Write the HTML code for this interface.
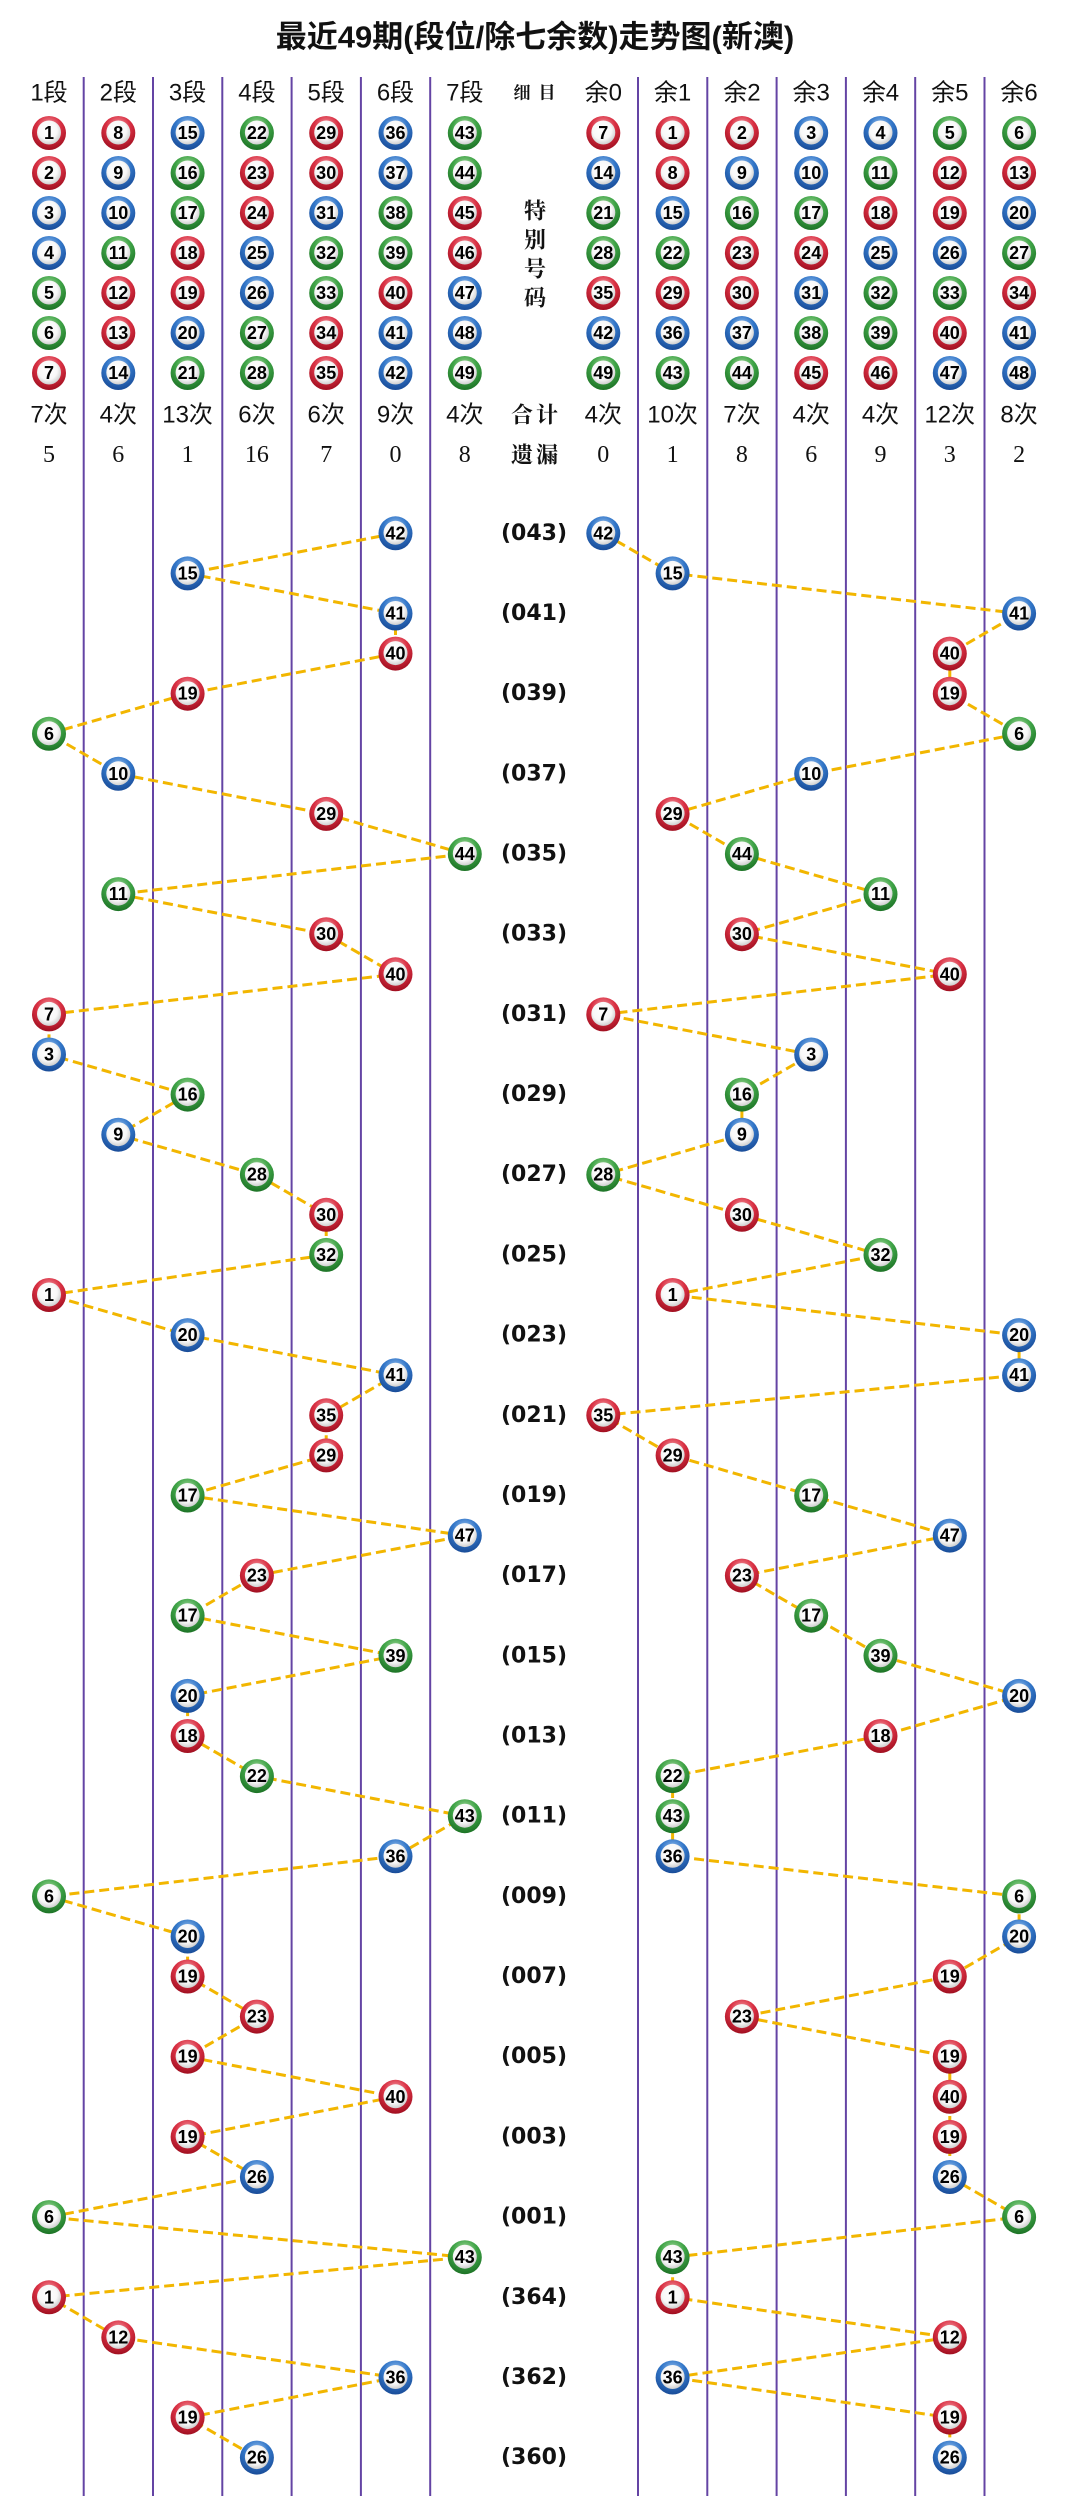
<!DOCTYPE html>
<html><head><meta charset="utf-8"><style>
html,body{margin:0;padding:0;background:#fff;}
svg{display:block;}
.t{font:bold 31px "Liberation Sans","Noto Sans CJK SC",sans-serif;text-anchor:middle;dominant-baseline:central;fill:#111;}
.h{font:24px "Liberation Sans","Noto Sans CJK SC",sans-serif;text-anchor:middle;dominant-baseline:central;fill:#111;}
.o{font:24px "Liberation Serif","Noto Serif CJK SC",serif;text-anchor:middle;dominant-baseline:central;fill:#111;}
.m{font:bold 17px "Liberation Serif","Noto Serif CJK SC",serif;text-anchor:middle;dominant-baseline:central;fill:#111;}
.m2{font:bold 22px "Liberation Serif","Noto Serif CJK SC",serif;text-anchor:middle;dominant-baseline:central;fill:#111;}
.p{font:bold 22px "DejaVu Sans","Liberation Sans",sans-serif;text-anchor:middle;dominant-baseline:central;fill:#111;}
.n{font:bold 18px "Liberation Sans",sans-serif;text-anchor:middle;dominant-baseline:central;fill:#000;}
</style></head><body>
<svg width="1069" height="2518" viewBox="0 0 1069 2518" xmlns="http://www.w3.org/2000/svg">
<defs>
<radialGradient id="wh" cx="0.45" cy="0.4" r="0.6"><stop offset="0" stop-color="#ffffff"/><stop offset="0.65" stop-color="#f8f8f8"/><stop offset="1" stop-color="#cfcfcf"/></radialGradient>
<radialGradient id="rr" cx="0.5" cy="0.3" r="0.7"><stop offset="0" stop-color="#f6a0a8"/><stop offset="0.5" stop-color="#d93043"/><stop offset="1" stop-color="#a00f20"/></radialGradient>
<radialGradient id="rb" cx="0.5" cy="0.3" r="0.7"><stop offset="0" stop-color="#9cc4f0"/><stop offset="0.5" stop-color="#3276c8"/><stop offset="1" stop-color="#194c98"/></radialGradient>
<radialGradient id="rg" cx="0.5" cy="0.3" r="0.7"><stop offset="0" stop-color="#a8dca0"/><stop offset="0.5" stop-color="#3ea346"/><stop offset="1" stop-color="#1d7326"/></radialGradient>
<g id="R"><circle r="17" fill="url(#rr)"/><circle cy="-0.5" r="12" fill="url(#wh)"/></g>
<g id="B"><circle r="17" fill="url(#rb)"/><circle cy="-0.5" r="12" fill="url(#wh)"/></g>
<g id="G"><circle r="17" fill="url(#rg)"/><circle cy="-0.5" r="12" fill="url(#wh)"/></g>
</defs>

<text class="t" x="535" y="37">最近49期(段位/除七余数)走势图(新澳)</text>

<g stroke="#6444a4" stroke-width="2">
<line x1="83.7" y1="77" x2="83.7" y2="2496"/>
<line x1="153" y1="77" x2="153" y2="2496"/>
<line x1="222.3" y1="77" x2="222.3" y2="2496"/>
<line x1="291.6" y1="77" x2="291.6" y2="2496"/>
<line x1="360.9" y1="77" x2="360.9" y2="2496"/>
<line x1="430.2" y1="77" x2="430.2" y2="2496"/>
<line x1="638" y1="77" x2="638" y2="2496"/>
<line x1="707.3" y1="77" x2="707.3" y2="2496"/>
<line x1="776.6" y1="77" x2="776.6" y2="2496"/>
<line x1="845.9" y1="77" x2="845.9" y2="2496"/>
<line x1="915.2" y1="77" x2="915.2" y2="2496"/>
<line x1="984.5" y1="77" x2="984.5" y2="2496"/>
</g>

<!-- header labels -->
<text class="h" x="49" y="93">1段</text>
<text class="h" x="118.3" y="93">2段</text>
<text class="h" x="187.6" y="93">3段</text>
<text class="h" x="256.9" y="93">4段</text>
<text class="h" x="326.2" y="93">5段</text>
<text class="h" x="395.5" y="93">6段</text>
<text class="h" x="464.8" y="93">7段</text>
<text class="m" x="522" y="93">细</text>
<text class="m" x="547" y="93">目</text>
<text class="h" x="603.3" y="93">余0</text>
<text class="h" x="672.6" y="93">余1</text>
<text class="h" x="741.9" y="93">余2</text>
<text class="h" x="811.2" y="93">余3</text>
<text class="h" x="880.5" y="93">余4</text>
<text class="h" x="949.8" y="93">余5</text>
<text class="h" x="1019.1" y="93">余6</text>

<text class="m2" x="535" y="211">特</text>
<text class="m2" x="535" y="240">别</text>
<text class="m2" x="535" y="269">号</text>
<text class="m2" x="535" y="298">码</text>

<!-- header balls left -->
<g transform="translate(49 133)"><use href="#R"/><text class="n">1</text></g>
<g transform="translate(49 173)"><use href="#R"/><text class="n">2</text></g>
<g transform="translate(49 213)"><use href="#B"/><text class="n">3</text></g>
<g transform="translate(49 253)"><use href="#B"/><text class="n">4</text></g>
<g transform="translate(49 293)"><use href="#G"/><text class="n">5</text></g>
<g transform="translate(49 333)"><use href="#G"/><text class="n">6</text></g>
<g transform="translate(49 373)"><use href="#R"/><text class="n">7</text></g>

<g transform="translate(118.3 133)"><use href="#R"/><text class="n">8</text></g>
<g transform="translate(118.3 173)"><use href="#B"/><text class="n">9</text></g>
<g transform="translate(118.3 213)"><use href="#B"/><text class="n">10</text></g>
<g transform="translate(118.3 253)"><use href="#G"/><text class="n">11</text></g>
<g transform="translate(118.3 293)"><use href="#R"/><text class="n">12</text></g>
<g transform="translate(118.3 333)"><use href="#R"/><text class="n">13</text></g>
<g transform="translate(118.3 373)"><use href="#B"/><text class="n">14</text></g>

<g transform="translate(187.6 133)"><use href="#B"/><text class="n">15</text></g>
<g transform="translate(187.6 173)"><use href="#G"/><text class="n">16</text></g>
<g transform="translate(187.6 213)"><use href="#G"/><text class="n">17</text></g>
<g transform="translate(187.6 253)"><use href="#R"/><text class="n">18</text></g>
<g transform="translate(187.6 293)"><use href="#R"/><text class="n">19</text></g>
<g transform="translate(187.6 333)"><use href="#B"/><text class="n">20</text></g>
<g transform="translate(187.6 373)"><use href="#G"/><text class="n">21</text></g>

<g transform="translate(256.9 133)"><use href="#G"/><text class="n">22</text></g>
<g transform="translate(256.9 173)"><use href="#R"/><text class="n">23</text></g>
<g transform="translate(256.9 213)"><use href="#R"/><text class="n">24</text></g>
<g transform="translate(256.9 253)"><use href="#B"/><text class="n">25</text></g>
<g transform="translate(256.9 293)"><use href="#B"/><text class="n">26</text></g>
<g transform="translate(256.9 333)"><use href="#G"/><text class="n">27</text></g>
<g transform="translate(256.9 373)"><use href="#G"/><text class="n">28</text></g>

<g transform="translate(326.2 133)"><use href="#R"/><text class="n">29</text></g>
<g transform="translate(326.2 173)"><use href="#R"/><text class="n">30</text></g>
<g transform="translate(326.2 213)"><use href="#B"/><text class="n">31</text></g>
<g transform="translate(326.2 253)"><use href="#G"/><text class="n">32</text></g>
<g transform="translate(326.2 293)"><use href="#G"/><text class="n">33</text></g>
<g transform="translate(326.2 333)"><use href="#R"/><text class="n">34</text></g>
<g transform="translate(326.2 373)"><use href="#R"/><text class="n">35</text></g>

<g transform="translate(395.5 133)"><use href="#B"/><text class="n">36</text></g>
<g transform="translate(395.5 173)"><use href="#B"/><text class="n">37</text></g>
<g transform="translate(395.5 213)"><use href="#G"/><text class="n">38</text></g>
<g transform="translate(395.5 253)"><use href="#G"/><text class="n">39</text></g>
<g transform="translate(395.5 293)"><use href="#R"/><text class="n">40</text></g>
<g transform="translate(395.5 333)"><use href="#B"/><text class="n">41</text></g>
<g transform="translate(395.5 373)"><use href="#B"/><text class="n">42</text></g>

<g transform="translate(464.8 133)"><use href="#G"/><text class="n">43</text></g>
<g transform="translate(464.8 173)"><use href="#G"/><text class="n">44</text></g>
<g transform="translate(464.8 213)"><use href="#R"/><text class="n">45</text></g>
<g transform="translate(464.8 253)"><use href="#R"/><text class="n">46</text></g>
<g transform="translate(464.8 293)"><use href="#B"/><text class="n">47</text></g>
<g transform="translate(464.8 333)"><use href="#B"/><text class="n">48</text></g>
<g transform="translate(464.8 373)"><use href="#G"/><text class="n">49</text></g>

<!-- header balls right -->
<g transform="translate(603.3 133)"><use href="#R"/><text class="n">7</text></g>
<g transform="translate(603.3 173)"><use href="#B"/><text class="n">14</text></g>
<g transform="translate(603.3 213)"><use href="#G"/><text class="n">21</text></g>
<g transform="translate(603.3 253)"><use href="#G"/><text class="n">28</text></g>
<g transform="translate(603.3 293)"><use href="#R"/><text class="n">35</text></g>
<g transform="translate(603.3 333)"><use href="#B"/><text class="n">42</text></g>
<g transform="translate(603.3 373)"><use href="#G"/><text class="n">49</text></g>

<g transform="translate(672.6 133)"><use href="#R"/><text class="n">1</text></g>
<g transform="translate(672.6 173)"><use href="#R"/><text class="n">8</text></g>
<g transform="translate(672.6 213)"><use href="#B"/><text class="n">15</text></g>
<g transform="translate(672.6 253)"><use href="#G"/><text class="n">22</text></g>
<g transform="translate(672.6 293)"><use href="#R"/><text class="n">29</text></g>
<g transform="translate(672.6 333)"><use href="#B"/><text class="n">36</text></g>
<g transform="translate(672.6 373)"><use href="#G"/><text class="n">43</text></g>

<g transform="translate(741.9 133)"><use href="#R"/><text class="n">2</text></g>
<g transform="translate(741.9 173)"><use href="#B"/><text class="n">9</text></g>
<g transform="translate(741.9 213)"><use href="#G"/><text class="n">16</text></g>
<g transform="translate(741.9 253)"><use href="#R"/><text class="n">23</text></g>
<g transform="translate(741.9 293)"><use href="#R"/><text class="n">30</text></g>
<g transform="translate(741.9 333)"><use href="#B"/><text class="n">37</text></g>
<g transform="translate(741.9 373)"><use href="#G"/><text class="n">44</text></g>

<g transform="translate(811.2 133)"><use href="#B"/><text class="n">3</text></g>
<g transform="translate(811.2 173)"><use href="#B"/><text class="n">10</text></g>
<g transform="translate(811.2 213)"><use href="#G"/><text class="n">17</text></g>
<g transform="translate(811.2 253)"><use href="#R"/><text class="n">24</text></g>
<g transform="translate(811.2 293)"><use href="#B"/><text class="n">31</text></g>
<g transform="translate(811.2 333)"><use href="#G"/><text class="n">38</text></g>
<g transform="translate(811.2 373)"><use href="#R"/><text class="n">45</text></g>

<g transform="translate(880.5 133)"><use href="#B"/><text class="n">4</text></g>
<g transform="translate(880.5 173)"><use href="#G"/><text class="n">11</text></g>
<g transform="translate(880.5 213)"><use href="#R"/><text class="n">18</text></g>
<g transform="translate(880.5 253)"><use href="#B"/><text class="n">25</text></g>
<g transform="translate(880.5 293)"><use href="#G"/><text class="n">32</text></g>
<g transform="translate(880.5 333)"><use href="#G"/><text class="n">39</text></g>
<g transform="translate(880.5 373)"><use href="#R"/><text class="n">46</text></g>

<g transform="translate(949.8 133)"><use href="#G"/><text class="n">5</text></g>
<g transform="translate(949.8 173)"><use href="#R"/><text class="n">12</text></g>
<g transform="translate(949.8 213)"><use href="#R"/><text class="n">19</text></g>
<g transform="translate(949.8 253)"><use href="#B"/><text class="n">26</text></g>
<g transform="translate(949.8 293)"><use href="#G"/><text class="n">33</text></g>
<g transform="translate(949.8 333)"><use href="#R"/><text class="n">40</text></g>
<g transform="translate(949.8 373)"><use href="#B"/><text class="n">47</text></g>

<g transform="translate(1019.1 133)"><use href="#G"/><text class="n">6</text></g>
<g transform="translate(1019.1 173)"><use href="#R"/><text class="n">13</text></g>
<g transform="translate(1019.1 213)"><use href="#B"/><text class="n">20</text></g>
<g transform="translate(1019.1 253)"><use href="#G"/><text class="n">27</text></g>
<g transform="translate(1019.1 293)"><use href="#R"/><text class="n">34</text></g>
<g transform="translate(1019.1 333)"><use href="#B"/><text class="n">41</text></g>
<g transform="translate(1019.1 373)"><use href="#B"/><text class="n">48</text></g>

<!-- counts -->
<text class="h" x="49" y="415">7次</text>
<text class="h" x="118.3" y="415">4次</text>
<text class="h" x="187.6" y="415">13次</text>
<text class="h" x="256.9" y="415">6次</text>
<text class="h" x="326.2" y="415">6次</text>
<text class="h" x="395.5" y="415">9次</text>
<text class="h" x="464.8" y="415">4次</text>
<text class="m2" x="522" y="415">合</text>
<text class="m2" x="547" y="415">计</text>
<text class="h" x="603.3" y="415">4次</text>
<text class="h" x="672.6" y="415">10次</text>
<text class="h" x="741.9" y="415">7次</text>
<text class="h" x="811.2" y="415">4次</text>
<text class="h" x="880.5" y="415">4次</text>
<text class="h" x="949.8" y="415">12次</text>
<text class="h" x="1019.1" y="415">8次</text>

<text class="o" x="49" y="455">5</text>
<text class="o" x="118.3" y="455">6</text>
<text class="o" x="187.6" y="455">1</text>
<text class="o" x="256.9" y="455">16</text>
<text class="o" x="326.2" y="455">7</text>
<text class="o" x="395.5" y="455">0</text>
<text class="o" x="464.8" y="455">8</text>
<text class="m2" x="522" y="455">遗</text>
<text class="m2" x="547" y="455">漏</text>
<text class="o" x="603.3" y="455">0</text>
<text class="o" x="672.6" y="455">1</text>
<text class="o" x="741.9" y="455">8</text>
<text class="o" x="811.2" y="455">6</text>
<text class="o" x="880.5" y="455">9</text>
<text class="o" x="949.8" y="455">3</text>
<text class="o" x="1019.1" y="455">2</text>

<!-- period labels -->
<text class="p" x="534" y="533.3">(043)</text>
<text class="p" x="534" y="613.5">(041)</text>
<text class="p" x="534" y="693.7">(039)</text>
<text class="p" x="534" y="773.8">(037)</text>
<text class="p" x="534" y="854">(035)</text>
<text class="p" x="534" y="934.2">(033)</text>
<text class="p" x="534" y="1014.4">(031)</text>
<text class="p" x="534" y="1094.6">(029)</text>
<text class="p" x="534" y="1174.7">(027)</text>
<text class="p" x="534" y="1254.9">(025)</text>
<text class="p" x="534" y="1335.1">(023)</text>
<text class="p" x="534" y="1415.3">(021)</text>
<text class="p" x="534" y="1495.5">(019)</text>
<text class="p" x="534" y="1575.6">(017)</text>
<text class="p" x="534" y="1655.8">(015)</text>
<text class="p" x="534" y="1736">(013)</text>
<text class="p" x="534" y="1816.2">(011)</text>
<text class="p" x="534" y="1896.4">(009)</text>
<text class="p" x="534" y="1976.5">(007)</text>
<text class="p" x="534" y="2056.7">(005)</text>
<text class="p" x="534" y="2136.9">(003)</text>
<text class="p" x="534" y="2217.1">(001)</text>
<text class="p" x="534" y="2297.3">(364)</text>
<text class="p" x="534" y="2377.5">(362)</text>
<text class="p" x="534" y="2457.6">(360)</text>

<!-- trend lines -->
<g fill="none" stroke="#f2b600" stroke-width="3" stroke-dasharray="10 5">
<polyline points="395.5,533.3 187.6,573.4 395.5,613.5 395.5,653.6 187.6,693.7 49,733.8 118.3,773.8 326.2,813.9 464.8,854 118.3,894.1 326.2,934.2 395.5,974.3 49,1014.4 49,1054.5 187.6,1094.6 118.3,1134.7 256.9,1174.7 326.2,1214.8 326.2,1254.9 49,1295 187.6,1335.1 395.5,1375.2 326.2,1415.3 326.2,1455.4 187.6,1495.5 464.8,1535.6 256.9,1575.6 187.6,1615.7 395.5,1655.8 187.6,1695.9 187.6,1736 256.9,1776.1 464.8,1816.2 395.5,1856.3 49,1896.4 187.6,1936.5 187.6,1976.5 256.9,2016.6 187.6,2056.7 395.5,2096.8 187.6,2136.9 256.9,2177 49,2217.1 464.8,2257.2 49,2297.3 118.3,2337.4 395.5,2377.5 187.6,2417.6 256.9,2457.6"/>
<polyline points="603.3,533.3 672.6,573.4 1019.1,613.5 949.8,653.6 949.8,693.7 1019.1,733.8 811.2,773.8 672.6,813.9 741.9,854 880.5,894.1 741.9,934.2 949.8,974.3 603.3,1014.4 811.2,1054.5 741.9,1094.6 741.9,1134.7 603.3,1174.7 741.9,1214.8 880.5,1254.9 672.6,1295 1019.1,1335.1 1019.1,1375.2 603.3,1415.3 672.6,1455.4 811.2,1495.5 949.8,1535.6 741.9,1575.6 811.2,1615.7 880.5,1655.8 1019.1,1695.9 880.5,1736 672.6,1776.1 672.6,1816.2 672.6,1856.3 1019.1,1896.4 1019.1,1936.5 949.8,1976.5 741.9,2016.6 949.8,2056.7 949.8,2096.8 949.8,2136.9 949.8,2177 1019.1,2217.1 672.6,2257.2 672.6,2297.3 949.8,2337.4 672.6,2377.5 949.8,2417.6 949.8,2457.6"/>
</g>

<!-- data balls -->
<g transform="translate(395.5 533.3)"><use href="#B"/><text class="n">42</text></g>
<g transform="translate(603.3 533.3)"><use href="#B"/><text class="n">42</text></g>
<g transform="translate(187.6 573.4)"><use href="#B"/><text class="n">15</text></g>
<g transform="translate(672.6 573.4)"><use href="#B"/><text class="n">15</text></g>
<g transform="translate(395.5 613.5)"><use href="#B"/><text class="n">41</text></g>
<g transform="translate(1019.1 613.5)"><use href="#B"/><text class="n">41</text></g>
<g transform="translate(395.5 653.6)"><use href="#R"/><text class="n">40</text></g>
<g transform="translate(949.8 653.6)"><use href="#R"/><text class="n">40</text></g>
<g transform="translate(187.6 693.7)"><use href="#R"/><text class="n">19</text></g>
<g transform="translate(949.8 693.7)"><use href="#R"/><text class="n">19</text></g>
<g transform="translate(49 733.8)"><use href="#G"/><text class="n">6</text></g>
<g transform="translate(1019.1 733.8)"><use href="#G"/><text class="n">6</text></g>
<g transform="translate(118.3 773.8)"><use href="#B"/><text class="n">10</text></g>
<g transform="translate(811.2 773.8)"><use href="#B"/><text class="n">10</text></g>
<g transform="translate(326.2 813.9)"><use href="#R"/><text class="n">29</text></g>
<g transform="translate(672.6 813.9)"><use href="#R"/><text class="n">29</text></g>
<g transform="translate(464.8 854)"><use href="#G"/><text class="n">44</text></g>
<g transform="translate(741.9 854)"><use href="#G"/><text class="n">44</text></g>
<g transform="translate(118.3 894.1)"><use href="#G"/><text class="n">11</text></g>
<g transform="translate(880.5 894.1)"><use href="#G"/><text class="n">11</text></g>
<g transform="translate(326.2 934.2)"><use href="#R"/><text class="n">30</text></g>
<g transform="translate(741.9 934.2)"><use href="#R"/><text class="n">30</text></g>
<g transform="translate(395.5 974.3)"><use href="#R"/><text class="n">40</text></g>
<g transform="translate(949.8 974.3)"><use href="#R"/><text class="n">40</text></g>
<g transform="translate(49 1014.4)"><use href="#R"/><text class="n">7</text></g>
<g transform="translate(603.3 1014.4)"><use href="#R"/><text class="n">7</text></g>
<g transform="translate(49 1054.5)"><use href="#B"/><text class="n">3</text></g>
<g transform="translate(811.2 1054.5)"><use href="#B"/><text class="n">3</text></g>
<g transform="translate(187.6 1094.6)"><use href="#G"/><text class="n">16</text></g>
<g transform="translate(741.9 1094.6)"><use href="#G"/><text class="n">16</text></g>
<g transform="translate(118.3 1134.7)"><use href="#B"/><text class="n">9</text></g>
<g transform="translate(741.9 1134.7)"><use href="#B"/><text class="n">9</text></g>
<g transform="translate(256.9 1174.7)"><use href="#G"/><text class="n">28</text></g>
<g transform="translate(603.3 1174.7)"><use href="#G"/><text class="n">28</text></g>
<g transform="translate(326.2 1214.8)"><use href="#R"/><text class="n">30</text></g>
<g transform="translate(741.9 1214.8)"><use href="#R"/><text class="n">30</text></g>
<g transform="translate(326.2 1254.9)"><use href="#G"/><text class="n">32</text></g>
<g transform="translate(880.5 1254.9)"><use href="#G"/><text class="n">32</text></g>
<g transform="translate(49 1295)"><use href="#R"/><text class="n">1</text></g>
<g transform="translate(672.6 1295)"><use href="#R"/><text class="n">1</text></g>
<g transform="translate(187.6 1335.1)"><use href="#B"/><text class="n">20</text></g>
<g transform="translate(1019.1 1335.1)"><use href="#B"/><text class="n">20</text></g>
<g transform="translate(395.5 1375.2)"><use href="#B"/><text class="n">41</text></g>
<g transform="translate(1019.1 1375.2)"><use href="#B"/><text class="n">41</text></g>
<g transform="translate(326.2 1415.3)"><use href="#R"/><text class="n">35</text></g>
<g transform="translate(603.3 1415.3)"><use href="#R"/><text class="n">35</text></g>
<g transform="translate(326.2 1455.4)"><use href="#R"/><text class="n">29</text></g>
<g transform="translate(672.6 1455.4)"><use href="#R"/><text class="n">29</text></g>
<g transform="translate(187.6 1495.5)"><use href="#G"/><text class="n">17</text></g>
<g transform="translate(811.2 1495.5)"><use href="#G"/><text class="n">17</text></g>
<g transform="translate(464.8 1535.6)"><use href="#B"/><text class="n">47</text></g>
<g transform="translate(949.8 1535.6)"><use href="#B"/><text class="n">47</text></g>
<g transform="translate(256.9 1575.6)"><use href="#R"/><text class="n">23</text></g>
<g transform="translate(741.9 1575.6)"><use href="#R"/><text class="n">23</text></g>
<g transform="translate(187.6 1615.7)"><use href="#G"/><text class="n">17</text></g>
<g transform="translate(811.2 1615.7)"><use href="#G"/><text class="n">17</text></g>
<g transform="translate(395.5 1655.8)"><use href="#G"/><text class="n">39</text></g>
<g transform="translate(880.5 1655.8)"><use href="#G"/><text class="n">39</text></g>
<g transform="translate(187.6 1695.9)"><use href="#B"/><text class="n">20</text></g>
<g transform="translate(1019.1 1695.9)"><use href="#B"/><text class="n">20</text></g>
<g transform="translate(187.6 1736)"><use href="#R"/><text class="n">18</text></g>
<g transform="translate(880.5 1736)"><use href="#R"/><text class="n">18</text></g>
<g transform="translate(256.9 1776.1)"><use href="#G"/><text class="n">22</text></g>
<g transform="translate(672.6 1776.1)"><use href="#G"/><text class="n">22</text></g>
<g transform="translate(464.8 1816.2)"><use href="#G"/><text class="n">43</text></g>
<g transform="translate(672.6 1816.2)"><use href="#G"/><text class="n">43</text></g>
<g transform="translate(395.5 1856.3)"><use href="#B"/><text class="n">36</text></g>
<g transform="translate(672.6 1856.3)"><use href="#B"/><text class="n">36</text></g>
<g transform="translate(49 1896.4)"><use href="#G"/><text class="n">6</text></g>
<g transform="translate(1019.1 1896.4)"><use href="#G"/><text class="n">6</text></g>
<g transform="translate(187.6 1936.5)"><use href="#B"/><text class="n">20</text></g>
<g transform="translate(1019.1 1936.5)"><use href="#B"/><text class="n">20</text></g>
<g transform="translate(187.6 1976.5)"><use href="#R"/><text class="n">19</text></g>
<g transform="translate(949.8 1976.5)"><use href="#R"/><text class="n">19</text></g>
<g transform="translate(256.9 2016.6)"><use href="#R"/><text class="n">23</text></g>
<g transform="translate(741.9 2016.6)"><use href="#R"/><text class="n">23</text></g>
<g transform="translate(187.6 2056.7)"><use href="#R"/><text class="n">19</text></g>
<g transform="translate(949.8 2056.7)"><use href="#R"/><text class="n">19</text></g>
<g transform="translate(395.5 2096.8)"><use href="#R"/><text class="n">40</text></g>
<g transform="translate(949.8 2096.8)"><use href="#R"/><text class="n">40</text></g>
<g transform="translate(187.6 2136.9)"><use href="#R"/><text class="n">19</text></g>
<g transform="translate(949.8 2136.9)"><use href="#R"/><text class="n">19</text></g>
<g transform="translate(256.9 2177)"><use href="#B"/><text class="n">26</text></g>
<g transform="translate(949.8 2177)"><use href="#B"/><text class="n">26</text></g>
<g transform="translate(49 2217.1)"><use href="#G"/><text class="n">6</text></g>
<g transform="translate(1019.1 2217.1)"><use href="#G"/><text class="n">6</text></g>
<g transform="translate(464.8 2257.2)"><use href="#G"/><text class="n">43</text></g>
<g transform="translate(672.6 2257.2)"><use href="#G"/><text class="n">43</text></g>
<g transform="translate(49 2297.3)"><use href="#R"/><text class="n">1</text></g>
<g transform="translate(672.6 2297.3)"><use href="#R"/><text class="n">1</text></g>
<g transform="translate(118.3 2337.4)"><use href="#R"/><text class="n">12</text></g>
<g transform="translate(949.8 2337.4)"><use href="#R"/><text class="n">12</text></g>
<g transform="translate(395.5 2377.5)"><use href="#B"/><text class="n">36</text></g>
<g transform="translate(672.6 2377.5)"><use href="#B"/><text class="n">36</text></g>
<g transform="translate(187.6 2417.6)"><use href="#R"/><text class="n">19</text></g>
<g transform="translate(949.8 2417.6)"><use href="#R"/><text class="n">19</text></g>
<g transform="translate(256.9 2457.6)"><use href="#B"/><text class="n">26</text></g>
<g transform="translate(949.8 2457.6)"><use href="#B"/><text class="n">26</text></g>
</svg>
</body></html>
